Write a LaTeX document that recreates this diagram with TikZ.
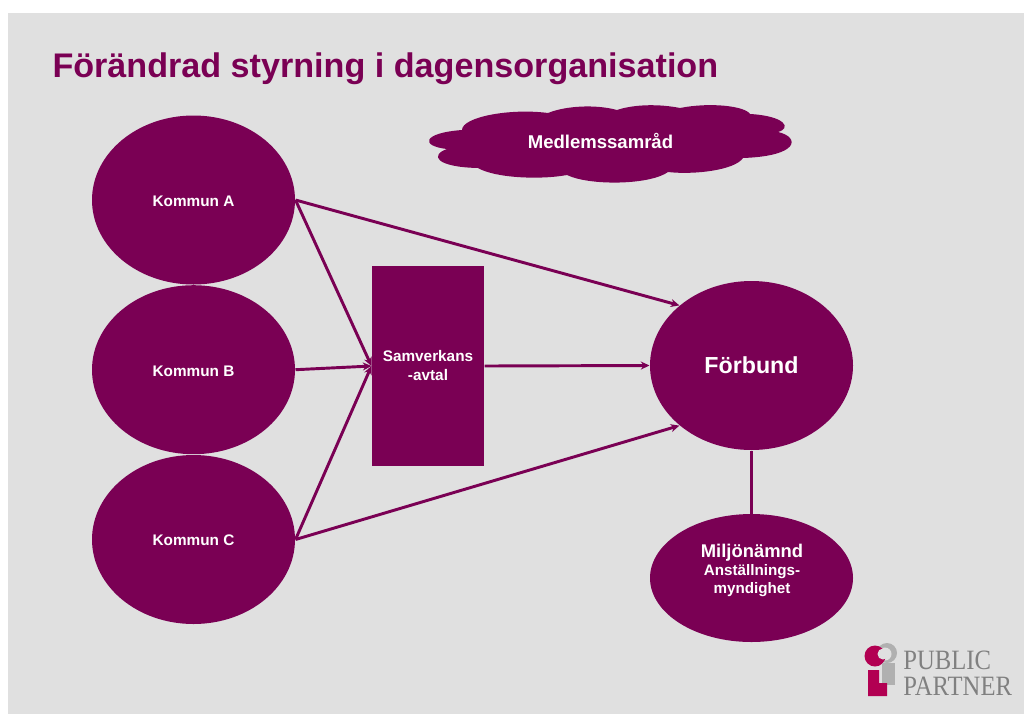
\documentclass[tikz,border=0pt]{standalone}
\usepackage{fontspec}
\setmainfont{Liberation Sans}
\newfontfamily\logofont{Liberation Serif}
\usetikzlibrary{shapes.geometric,arrows.meta}
\definecolor{plum}{RGB}{122,0,84}
\definecolor{slide}{RGB}{224,224,224}
\definecolor{logored}{RGB}{178,0,82}
\definecolor{logogrey}{RGB}{176,176,176}
\tikzset{
	every picture/.style={line width=0.75pt},
	kommun/.style={ellipse,fill=plum,text=white,inner sep=0pt,minimum width=152.25pt,minimum height=126.75pt,text height=9.5pt,text depth=0pt,font=\bfseries\fontsize{11.5}{13}\selectfont},
	link/.style={draw=plum,line width=2.2pt,-{Stealth[length=6.5pt,width=6pt]}},
}
\begin{document}
\begin{tikzpicture}[x=0.75pt,y=0.75pt,yscale=-1,xscale=1]
	\useasboundingbox (0,0) rectangle (1024,715);
	
	%Background
	\fill [slide] (8,13) rectangle (1024,714);
	
	% Title
	\node (title) [anchor=west,inner sep=0pt,text=plum,font=\bfseries\fontsize{25.6}{30}\selectfont] at (52,68.5) {Förändrad styrning i dagensorganisation};
	
	%Cloud
	\fill [plum] (462,130) .. controls (462,117) and (510,108) .. (548,113)
		.. controls (565,106) and (595,104) .. (617,110)
		.. controls (635,104) and (660,104) .. (680,108)
		.. controls (710,102) and (745,106) .. (750,114)
		.. controls (785,116) and (792,128) .. (778,132)
		.. controls (800,137) and (800,156) .. (743,158)
		.. controls (735,170) and (695,175) .. (668,172)
		.. controls (650,185) and (590,186) .. (567,175)
		.. controls (540,180) and (495,178) .. (478,168)
		.. controls (435,167) and (430,155) .. (447,149)
		.. controls (420,146) and (422,133) .. (462,130) -- cycle;
	\node (medlem) [inner sep=0pt,text=white,font=\bfseries\fontsize{13.9}{15}\selectfont] at (600.5,141) {Medlemssamråd};
	
	% Municipalities
	\node (kommunA) [kommun] at (193.5,200) {Kommun A};
	\node (kommunB) [kommun] at (193.5,369.7) {Kommun B};
	\node (kommunC) [kommun] at (193.5,539.5) {Kommun C};
	
	% Agreement
	\node (avtal) [fill=plum,text=white,inner sep=0pt,minimum width=84pt,minimum height=150pt,align=center,font=\bfseries\fontsize{11.5}{14.25}\selectfont] at (428,366) {Samverkans\\-avtal};
	
	% Federation
	\node (forbund) [kommun,text height=12.5pt,font=\bfseries\fontsize{17.4}{20}\selectfont] at (751.5,365.5) {Förbund};
	\node (miljo) [ellipse,fill=plum,inner sep=0pt,minimum width=152.25pt,minimum height=96pt] at (751.5,578) {};
	\node (miljotext) [inner sep=0pt,text=white,align=center,font=\bfseries\fontsize{11.4}{13.5}\selectfont] at (752,570.5) {{\fontsize{13.8}{15}\selectfont Miljönämnd}\\Anställnings-\\myndighet};
	
	% Connectors
	\draw [link] (kommunA.east) -- (forbund.north west);
	\draw [link] (kommunA.east) -- (avtal.west);
	\draw [link] (kommunB.east) -- (avtal.west);
	\draw [link] (kommunC.east) -- (avtal.west);
	\draw [link] (kommunC.east) -- (forbund.south west);
	\draw [link] (avtal.east) -- (forbund.west);
	\draw [draw=plum,line width=2.2pt] (forbund.south) -- (miljo.north);
	
	% Logo
	\fill [logogrey] (887,653) circle (10);
	\fill [slide] (885,654) circle (6.5);
	\fill [logored] (875,656) circle (10.5);
	\fill [slide] (883,654) circle (5.5);
	\fill [logogrey] (882,663) rectangle (895,685);
	\fill [logored] (868,670) -- (879,670) -- (879,683) -- (887,683) -- (887,696) -- (868,696) -- cycle;
	\node (logotext) [anchor=west,inner sep=0pt,align=left,xscale=0.88,text=gray,font=\logofont\fontsize{21}{19.5}\selectfont] at (903,673.5) {PUBLIC\\PARTNER};
\end{tikzpicture}
\end{document}
